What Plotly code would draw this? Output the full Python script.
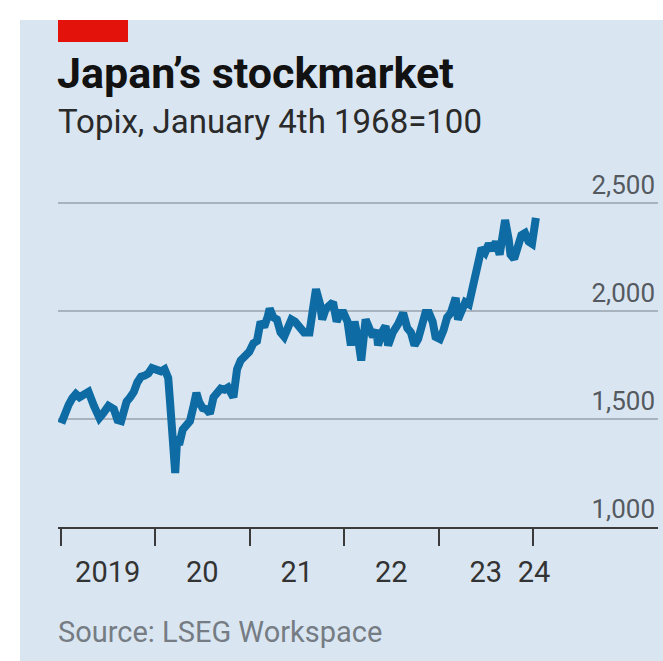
import plotly.graph_objects as go

# Topix index level, roughly fortnightly closes (January 4th 1968 = 100)
dates = [
    "2019-01-04", "2019-01-18", "2019-02-01", "2019-02-15", "2019-03-01", "2019-03-15",
    "2019-04-01", "2019-04-19", "2019-05-10", "2019-05-31", "2019-06-14", "2019-07-05",
    "2019-07-26", "2019-08-09", "2019-08-23", "2019-09-13", "2019-09-27", "2019-10-11",
    "2019-10-25", "2019-11-08", "2019-11-22", "2019-12-06", "2019-12-20",
    "2020-01-10", "2020-01-24", "2020-02-07", "2020-02-21", "2020-02-28", "2020-03-06",
    "2020-03-13", "2020-03-19", "2020-03-27", "2020-04-03", "2020-04-17", "2020-05-01",
    "2020-05-15", "2020-05-29", "2020-06-09", "2020-06-19", "2020-07-03", "2020-07-17",
    "2020-07-31", "2020-08-14", "2020-08-28", "2020-09-11", "2020-09-25", "2020-10-09",
    "2020-10-30", "2020-11-13", "2020-11-27", "2020-12-11", "2020-12-30",
    "2021-01-15", "2021-01-29", "2021-02-12", "2021-02-26", "2021-03-12", "2021-03-19",
    "2021-04-02", "2021-04-16", "2021-04-30", "2021-05-14", "2021-05-28", "2021-06-11",
    "2021-06-25", "2021-07-09", "2021-07-30", "2021-08-20", "2021-09-03", "2021-09-14",
    "2021-09-30", "2021-10-08", "2021-10-22", "2021-11-05", "2021-11-19", "2021-12-03",
    "2021-12-17", "2021-12-30",
    "2022-01-14", "2022-01-27", "2022-02-10", "2022-02-24", "2022-03-08", "2022-03-25",
    "2022-04-08", "2022-04-22", "2022-05-06", "2022-05-12", "2022-05-27", "2022-06-10",
    "2022-06-20", "2022-07-08", "2022-07-29", "2022-08-17", "2022-09-02", "2022-09-16",
    "2022-09-30", "2022-10-14", "2022-10-28", "2022-11-11", "2022-11-25", "2022-12-09",
    "2022-12-20",
    "2023-01-06", "2023-01-20", "2023-02-03", "2023-02-17", "2023-03-08", "2023-03-17",
    "2023-03-31", "2023-04-14", "2023-04-28", "2023-05-12", "2023-05-19", "2023-06-02",
    "2023-06-16", "2023-06-30", "2023-07-14", "2023-07-28", "2023-08-10", "2023-08-25",
    "2023-09-08", "2023-09-15", "2023-09-29", "2023-10-06", "2023-10-20", "2023-11-03",
    "2023-11-17", "2023-12-01", "2023-12-15", "2023-12-28",
    "2024-01-05", "2024-01-12",
]
topix = [
    1480, 1530, 1565, 1595, 1615, 1600,
    1615, 1625, 1560, 1505, 1525, 1560,
    1545, 1495, 1490, 1580, 1600, 1625,
    1670, 1695, 1700, 1710, 1735,
    1730, 1720, 1730, 1690, 1580, 1480,
    1330, 1250, 1420, 1380, 1450, 1470,
    1490, 1560, 1620, 1580, 1550, 1545,
    1525, 1600, 1620, 1640, 1635, 1645,
    1600, 1730, 1770, 1790, 1810,
    1850, 1860, 1950, 1925, 1975, 2010,
    1970, 1960, 1900, 1880, 1920, 1960,
    1950, 1925, 1900, 1900, 2000, 2100,
    2030, 1960, 2010, 2030, 2040, 1950,
    1990, 1990,
    1950, 1840, 1950, 1870, 1770, 1960,
    1920, 1880, 1910, 1840, 1900, 1930,
    1840, 1900, 1940, 1990, 1920, 1900,
    1840, 1870, 1930, 1990, 1990, 1950,
    1880,
    1870, 1910, 1970, 1990, 2060, 1960,
    2000, 2040, 2030, 2110, 2160, 2220,
    2290, 2270, 2310, 2280, 2320, 2260,
    2360, 2420, 2330, 2260, 2240, 2300,
    2350, 2360, 2320, 2310,
    2360, 2430,
]

year_starts = ["2019-01-01", "2020-01-01", "2021-01-01", "2022-01-01", "2023-01-01", "2024-01-01"]
year_label_pos = ["2019-07-02", "2020-07-02", "2021-07-02", "2022-07-02", "2023-07-02", "2024-01-05"]
year_labels = ["2019", "20", "21", "22", "23", "24"]
y_ticks = [1000, 1500, 2000, 2500]
y_tick_text = ["1,000", "1,500", "2,000", "2,500"]

W, H = 663, 661
BG = "#d9e6f2"
LINE = "#0e6ba3"
FONT = "Roboto"


def px(x):
    return x / W


def py(y):
    return 1 - y / H


fig = go.Figure()
fig.add_trace(go.Scatter(
    x=dates, y=topix, mode="lines",
    line=dict(color=LINE, width=8, shape="linear"),
    hoverinfo="skip", showlegend=False,
))

fig.update_layout(
    width=W, height=H,
    margin=dict(l=0, r=0, t=0, b=0),
    paper_bgcolor="white",
    plot_bgcolor="rgba(0,0,0,0)",
    font=dict(family=FONT, color="#333333"),
    xaxis=dict(
        domain=[px(58), px(658)],
        range=["2018-12-22", "2025-04-28"],
        type="date",
        showgrid=False, zeroline=False,
        showline=True, linecolor="#3b3b3b", linewidth=2,
        tickmode="array", tickvals=year_label_pos, ticktext=year_labels,
        ticks="", ticklabelstandoff=18,
        tickfont=dict(size=29, color="#333333", family=FONT),
        minor=dict(
            tickmode="array", tickvals=year_starts,
            ticks="outside", ticklen=17, tickwidth=2, tickcolor="#3b3b3b",
            showgrid=False,
        ),
        fixedrange=True,
    ),
    yaxis=dict(
        domain=[py(527), py(159.5)],
        range=[1000, 2700],
        side="right",
        showgrid=True, gridcolor="#a8b3bd", gridwidth=2,
        zeroline=False, showline=False,
        tickmode="array", tickvals=y_ticks, ticktext=y_tick_text,
        ticks="", ticklabelposition="inside top",
        tickfont=dict(size=26, color="#555a60", family=FONT),
        fixedrange=True,
    ),
    shapes=[
        # light panel behind the whole chart
        dict(type="rect", xref="paper", yref="paper",
             x0=px(20), x1=1, y0=0, y1=py(20),
             fillcolor=BG, line=dict(width=0), layer="below"),
        # red tag above the title
        dict(type="rect", xref="paper", yref="paper",
             x0=px(58), x1=px(128), y0=py(42), y1=py(20),
             fillcolor="#e3120b", line=dict(width=0), layer="above"),
    ],
    annotations=[
        dict(text="<b>Japan’s stockmarket</b>", xref="paper", yref="paper",
             x=px(55), y=py(73), xanchor="left", yanchor="middle", showarrow=False,
             font=dict(size=43, color="#121212", family=FONT)),
        dict(text="Topix, January 4th 1968=100", xref="paper", yref="paper",
             x=px(56), y=py(121), xanchor="left", yanchor="middle", showarrow=False,
             font=dict(size=33, color="#2a2a2a", family=FONT)),
        dict(text="Source: LSEG Workspace", xref="paper", yref="paper",
             x=px(56), y=py(632), xanchor="left", yanchor="middle", showarrow=False,
             font=dict(size=29, color="#767c83", family=FONT)),
    ],
)

fig.write_html("out.html")
